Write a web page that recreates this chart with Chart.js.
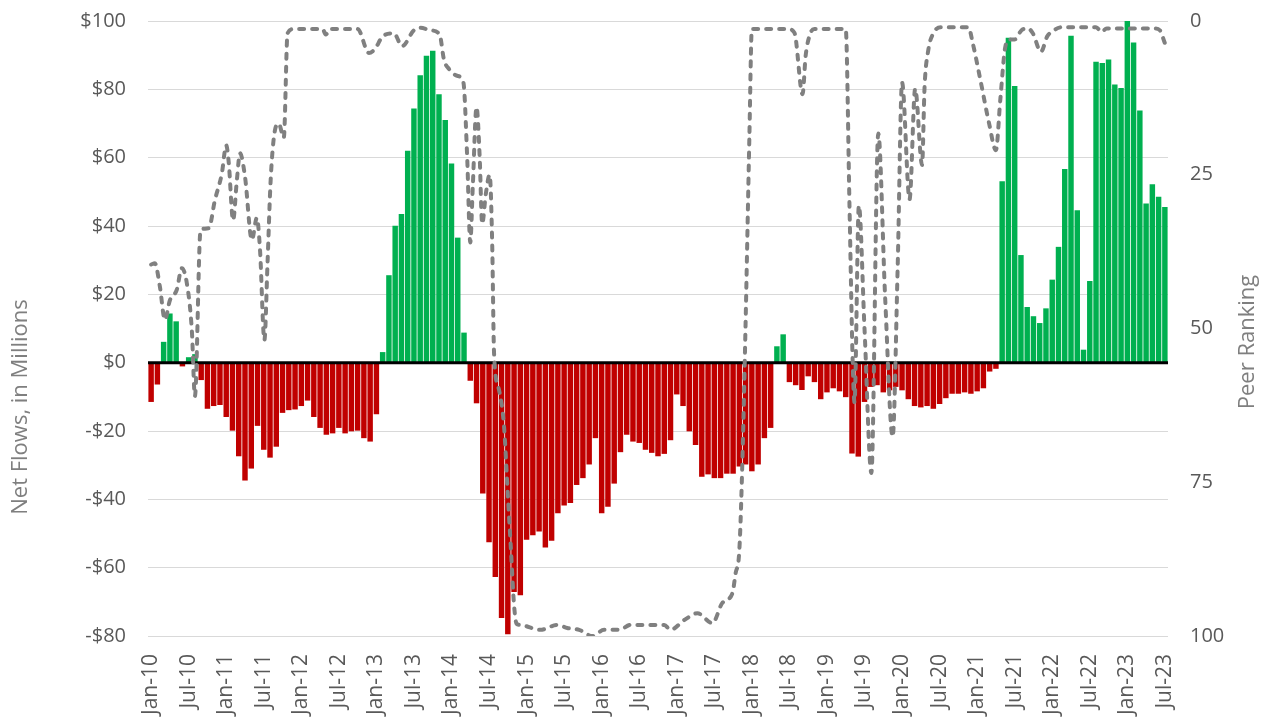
<!DOCTYPE html>
<html>
<head>
<meta charset="utf-8">
<script src="https://cdn.jsdelivr.net/npm/chart.js@4.4.1/dist/chart.umd.min.js"></script>
<style>
  html, body { margin: 0; padding: 0; background: #fff; overflow: hidden; }
  #wrap { width: 1263px; height: 719px; position: relative; }
</style>
</head>
<body>
<div id="wrap"><canvas id="chart"></canvas></div>
<script>
// Net flows in $ millions, one per month, Jan-10 .. Jul-23
const netFlows = [
  -11.4, -6.3, 6, 14.3, 12, -1, 1.5, 2.4, -5, -13.4, -12.6, -12.3,          // 2010
  -15.8, -19.8, -27.3, -34.4, -30.9, -18.4, -25.4, -27.7, -24.5, -14.6, -13.8, -13.6, // 2011
  -12.6, -11, -15.8, -19, -21, -20.6, -19, -20.6, -20, -19.8, -22, -23,      // 2012
  -15, 3, 25.5, 40, 43.4, 61.9, 74.3, 84, 89.7, 91.2, 78.5, 70.9,           // 2013
  58.2, 36.5, 8.7, -5.2, -11.8, -38.2, -52.5, -62.6, -74.6, -79.4, -67, -68, // 2014
  -51.7, -50.4, -49.3, -54, -52, -44, -41.7, -41, -35.7, -33.7, -29.7, -22, // 2015
  -44, -42.1, -35.3, -26.1, -21, -23, -23.4, -25.4, -26.3, -27.3, -26.6, -22.6, // 2016
  -9.2, -12.6, -20, -24, -33.3, -32.6, -33.7, -33.7, -32.4, -32.4, -30.3, -29.7, // 2017
  -31.7, -29.7, -22, -19, 4.7, 8.2, -5.6, -6.5, -7.9, -3.9, -5.6, -10.6,    // 2018
  -8.6, -7.4, -8.3, -10, -26.5, -27.4, -11.4, -7, -6.5, -8.6, -8, -7,       // 2019
  -8, -10.6, -12.6, -13, -12.6, -13.4, -12, -10.3, -9, -9, -8.6, -9,        // 2020
  -8.3, -7.4, -2.5, -1.7, 53, 95, 80.9, 31.4, 16.2, 13.5, 11.5, 15.8,       // 2021
  24.2, 33.8, 56.6, 95.6, 44.5, 3.7, 23.8, 88, 87.6, 88.6, 81.3, 80.3,      // 2022
  100, 93.6, 73.7, 46.5, 52.1, 48.5, 45.5                                  // 2023
];

// Peer ranking (right axis), sampled more often than monthly:
// position in months since Jan-10, and the rank there
const rankMonth = [
  0, 0.6, 1.4, 2.2, 3.0, 4.1, 4.9, 5.7, 6.5, 7.0, 7.9, 9.2, 10.2, 11.3, 12.0, 12.4,
  13.1, 13.7, 14.2, 15.0, 16.1, 16.9, 17.4, 18.1, 18.6, 19.1, 19.8, 20.4, 21.2, 21.8,
  22.8, 27.4, 27.9, 28.6, 33.0, 34.8, 35.8, 37.0, 38.8, 40.1, 42.0, 43.0, 44.6, 46.1,
  46.8, 47.6, 48.9, 49.9, 50.5, 51.0, 51.4, 52.0, 52.5, 52.9, 53.5, 54.1, 54.5, 54.8,
  55.6, 56.4, 57.0, 57.5, 58.0, 58.4, 59.0, 62.2, 64.9, 66.5, 68.4, 70.5, 72.4, 74.8,
  76.6, 82.0, 83.0, 85.2, 87.3, 89.7, 91.3, 92.9, 93.4, 94.0, 94.5, 95.0, 95.6, 96.0,
  101.7, 102.8, 104.1, 104.6, 105.4, 106.0, 111.0, 111.6, 112.1, 112.4, 113.1, 114.0,
  115.1, 116.2, 117.3, 118.5, 119.3, 120.0, 121.2, 122.1, 123.2, 123.6, 124.2, 125.0,
  126.2, 130.6, 131.3, 132.6, 133.9, 135.0, 135.7, 136.5, 137.2, 138.0, 139.1, 140.1,
  140.9, 142.2, 143.2, 144.0, 145.6, 151.0, 151.9, 152.7, 160.4, 161.2, 162.0
];
const rankValue = [
  39.6, 39.4, 43.2, 48.6, 45.4, 43.7, 40.2, 42.6, 50.2, 61, 34, 33.7, 29.1, 24.8, 20.2, 23,
  32.4, 25.9, 21.5, 25.3, 35.6, 32, 37.2, 51.9, 39.4, 25.9, 17.7, 16.7, 19, 2,
  1.3, 1.3, 2.2, 1.3, 1.3, 5.2, 4.5, 2.5, 2, 4.1, 1.5, 1.1, 1.5, 2.2,
  6.3, 7.8, 8.9, 10, 22, 36, 27, 14, 22, 33, 28, 25, 36, 54,
  60, 66, 77, 86, 95, 98, 98.2, 99, 98.2, 98.7, 99, 100, 99, 99,
  98.2, 98.2, 99, 97.4, 96.3, 97.9, 94.6, 93, 89.8, 86, 71, 49, 19, 1.3,
  1.3, 1.9, 11.9, 5.6, 1.9, 1.3, 1.3, 30, 55, 62, 30, 50,
  73.5, 18.3, 45, 67.6, 40, 10, 29, 11, 23.4, 10.7, 4.7, 2,
  1, 1, 3.6, 10, 16.6, 21, 12.8, 4.2, 3, 3, 1.5, 1.2,
  2, 5, 2.5, 1.7, 1, 1, 1.8, 1.2, 1.2, 1.5, 3.6
];

const monthNames = ["Jan", "Feb", "Mar", "Apr", "May", "Jun", "Jul", "Aug", "Sep", "Oct", "Nov", "Dec"];
const months = [];
for (let i = 0; i < netFlows.length; i++) {
    months.push(monthNames[i % 12] + "-" + (10 + Math.floor(i / 12)));
}

const barColors = netFlows.map(v => v >= 0 ? "#00b050" : "#c00000");
const rankPoints = rankMonth.map((m, i) => ({ x: m, y: rankValue[i] }));

const tickFont = { family: "'Open Sans', sans-serif", size: 20 };
const tickColor = "#595959";

// black zero line, drawn over the bars but under the ranking line
const zeroLine = {
    id: "zeroLine",
    afterDatasetDraw(chart, args) {
        if (args.index !== 0) return;
        const ctx = chart.ctx;
        const y = chart.scales.y.getPixelForValue(0);
        ctx.save();
        ctx.strokeStyle = "#000";
        ctx.lineWidth = 3;
        ctx.beginPath();
        ctx.moveTo(chart.chartArea.left, y);
        ctx.lineTo(chart.chartArea.right, y);
        ctx.stroke();
        ctx.restore();
    }
};

// both axis titles read bottom to top
const axisTitles = {
    id: "axisTitles",
    afterDraw(chart) {
        const ctx = chart.ctx;
        ctx.save();
        ctx.fillStyle = "#7f7f7f";
        ctx.font = "22px 'Open Sans', sans-serif";
        ctx.textAlign = "center";
        ctx.textBaseline = "middle";
        ctx.translate(21, 407);
        ctx.rotate(-Math.PI / 2);
        ctx.fillText("Net Flows, in Millions", 0, 0);
        ctx.restore();

        ctx.save();
        ctx.fillStyle = "#7f7f7f";
        ctx.font = "22px 'Open Sans', sans-serif";
        ctx.textAlign = "center";
        ctx.textBaseline = "middle";
        ctx.translate(1248, 342);
        ctx.rotate(-Math.PI / 2);
        ctx.fillText("Peer Ranking", 0, 0);
        ctx.restore();
    }
};

new Chart(document.getElementById("chart"), {
    data: {
        labels: months,
        datasets: [{
            type: "bar",
            data: netFlows,
            backgroundColor: barColors,
            barThickness: 4.8,
            grouped: false,
            xAxisID: "x",
            yAxisID: "y",
            order: 1
        }, {
            type: "line",
            data: rankPoints,
            xAxisID: "x2",
            yAxisID: "y2",
            borderColor: "#808080",
            borderWidth: 4,
            borderDash: [5, 8],
            borderCapStyle: "round",
            pointRadius: 0,
            cubicInterpolationMode: "monotone",
            fill: false,
            order: 0
        }]
    },
    options: {
        responsive: true,
        maintainAspectRatio: false,
        devicePixelRatio: 1,
        animation: false,
        layout: { padding: { top: 21, left: 0, right: 0, bottom: 0 } },
        plugins: {
            legend: { display: false },
            tooltip: { enabled: false }
        },
        scales: {
            x: {
                type: "category",
                offset: true,
                grid: { display: false },
                border: { display: false },
                ticks: {
                    autoSkip: false,
                    minRotation: 90,
                    maxRotation: 90,
                    padding: 10,
                    color: tickColor,
                    font: { family: "'Open Sans', sans-serif", size: 21 },
                    callback: function (val, idx) {
                        return idx % 6 === 0 ? this.getLabelForValue(val) : "";
                    }
                },
                afterFit: s => { s.height = 83; }
            },
            x2: {
                type: "linear",
                display: false,
                min: -0.5,
                max: 162.5
            },
            y: {
                position: "left",
                min: -80,
                max: 100,
                grid: {
                    color: "#d9d9d9",
                    lineWidth: 1,
                    drawTicks: true,
                    tickLength: 22,
                    tickColor: "rgba(0,0,0,0)"
                },
                border: { display: false },
                ticks: {
                    stepSize: 20,
                    padding: 0,
                    color: tickColor,
                    font: tickFont,
                    callback: v => (v < 0 ? "-$" : "$") + Math.abs(v)
                },
                afterFit: s => { s.width = 148; }
            },
            y2: {
                position: "right",
                reverse: true,
                min: 0,
                max: 100,
                grid: {
                    drawOnChartArea: false,
                    drawTicks: true,
                    tickLength: 22,
                    tickColor: "rgba(0,0,0,0)"
                },
                border: { display: false },
                ticks: {
                    stepSize: 25,
                    padding: 0,
                    color: tickColor,
                    font: tickFont
                },
                afterFit: s => { s.width = 95; }
            }
        }
    },
    plugins: [zeroLine, axisTitles]
});
</script>
</body>
</html>
